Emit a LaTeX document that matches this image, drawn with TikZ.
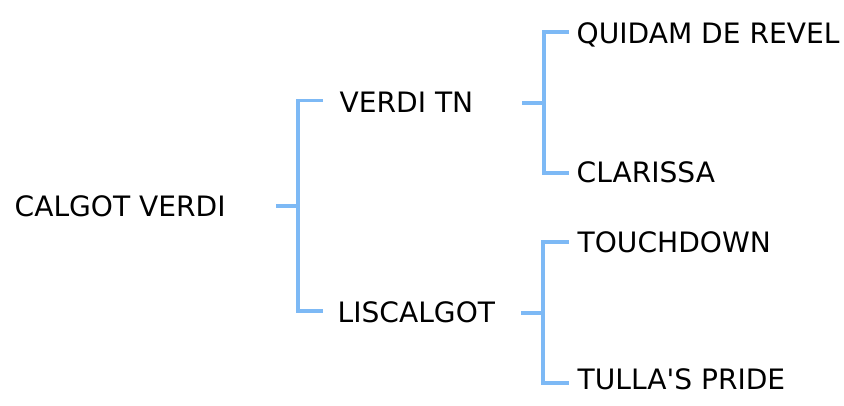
\documentclass[tikz,border=0pt]{standalone}
\usepackage{fontspec}
\setmainfont[Ligatures=ResetAll]{DejaVu Sans}
\newcommand{\straightquote}{{\XeTeXglyph\XeTeXglyphindex "quotesingle"\relax}}
\definecolor{linkblue}{HTML}{7DB9F5}
\begin{document}
\begin{tikzpicture}[x=1pt,y=1pt,
  lbl/.style={anchor=base west,inner sep=0pt,font=\fontsize{28.1}{32}\selectfont},
  conn/.style={draw=linkblue,line width=3.2pt}]
\useasboundingbox (0,0) rectangle (844,405);
% labels
\node[lbl] (root) at (14.5,188) {CALGOT VERDI};
\node[lbl] (vtn) at (339.5,292) {VERDI TN};
\node[lbl] (lis) at (337.5,83) {LISCALGOT};
\node[lbl] (qui) at (576.5,361) {QUIDAM DE REVEL};
\node[lbl] (cla) at (576.5,222) {CLARISSA};
\node[lbl] (tou) at (577.5,153) {TOUCHDOWN};
\node[lbl] (tul) at (577.5,16) {TULLA\straightquote S PRIDE};
% junction coordinates
\coordinate (s1) at (276,199);
\coordinate (j1) at (298,199);
\coordinate (a1) at (323,304.5);
\coordinate (b1) at (323,94);
\coordinate (s2) at (522,302);
\coordinate (j2) at (544,302);
\coordinate (a2) at (569,373);
\coordinate (b2) at (569,232);
\coordinate (s3) at (521,92);
\coordinate (j3) at (543,92);
\coordinate (a3) at (569,163);
\coordinate (b3) at (569,22);
% connectors
\draw[conn] (s1) -- (j1);
\draw[conn] (a1) -- (a1 -| j1) -- (b1 -| j1) -- (b1);
\draw[conn] (s2) -- (j2);
\draw[conn] (a2) -- (a2 -| j2) -- (b2 -| j2) -- (b2);
\draw[conn] (s3) -- (j3);
\draw[conn] (a3) -- (a3 -| j3) -- (b3 -| j3) -- (b3);
\end{tikzpicture}
\end{document}
